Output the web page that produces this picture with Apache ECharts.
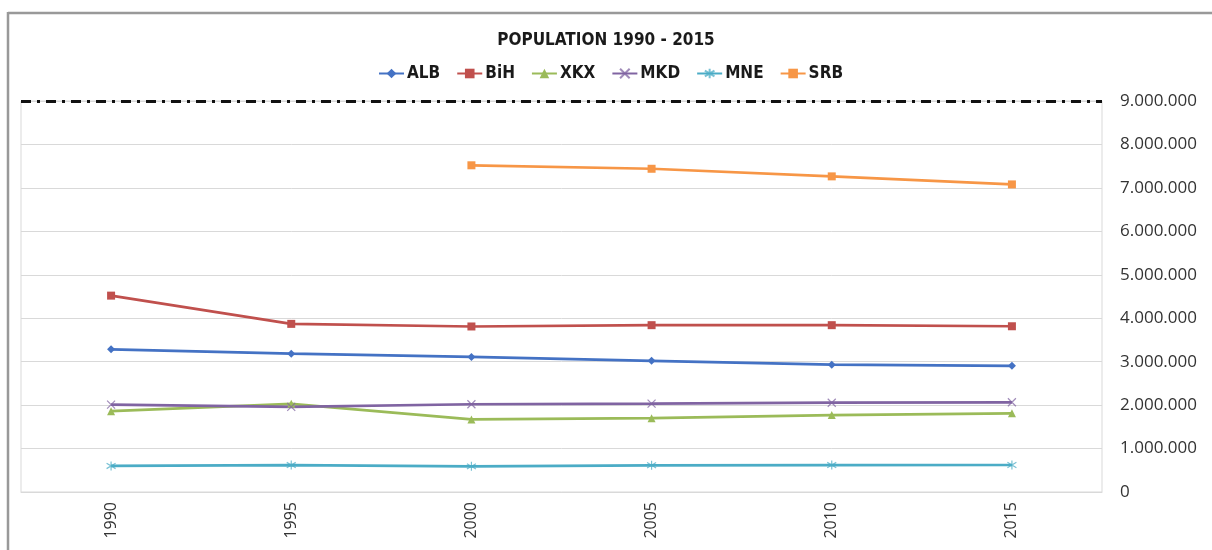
<!DOCTYPE html>
<html>
<head>
<meta charset="utf-8">
<script src="https://cdn.jsdelivr.net/npm/echarts@6/dist/echarts.min.js"></script>
<style>
html,body{margin:0;padding:0;background:#fff;}
#c{width:1212px;height:550px;}
</style>
</head>
<body>
<div id="c"></div>
<script>
var years = ['1990','1995','2000','2005','2010','2015'];
var ALB = [3285000, 3185000, 3110000, 3020000, 2930000, 2905000];
var BiH = [4520000, 3870000, 3810000, 3840000, 3840000, 3815000];
var XKX = [1860000, 2030000, 1670000, 1700000, 1770000, 1810000];
var MKD = [2010000, 1960000, 2020000, 2035000, 2055000, 2065000];
var MNE = [600000, 620000, 590000, 615000, 620000, 622000];
var SRB = [null, null, 7520000, 7440000, 7265000, 7080000];
var yTicks = [0, 1000000, 2000000, 3000000, 4000000, 5000000, 6000000, 7000000, 8000000, 9000000];

var colors = {ALB:'#4472C4', BiH:'#C0504D', XKX:'#9BBB59', MKD:'#8064A2', MNE:'#4BACC6', SRB:'#F79646'};
var xPath = 'path://M-4,-4L4,4M-4,4L4,-4';
var starPath = 'path://M0,-5L0,5M-4,-3L4,3M-4,3L4,-3';

function fmt(v){ return String(v).replace(/\B(?=(\d{3})+(?!\d))/g, '.'); }

function mk(name, data, symbol, size, stroke){
  var s = {
    name: name, type: 'line', data: data,
    symbol: symbol, symbolSize: size, showSymbol: true,
    connectNulls: false,
    lineStyle: {color: colors[name], width: 2.7},
    itemStyle: {color: colors[name]},
    z: 3
  };
  if (stroke) {
    s.itemStyle = {color: 'rgba(0,0,0,0)', borderColor: colors[name], borderWidth: 1.2, opacity: 0.75};
  }
  return s;
}

var chart = echarts.init(document.getElementById('c'));
var series = [
  mk('ALB', ALB, 'diamond', 8),
  mk('BiH', BiH, 'rect', 8),
  mk('XKX', XKX, 'triangle', 8),
  mk('MKD', MKD, xPath, 8, true),
  mk('MNE', MNE, starPath, 9, true),
  mk('SRB', SRB, 'rect', 8)
];
series[0].markLine = {
  silent: true, symbol: ['none','none'], label: {show: false},
  lineStyle: {color: '#111', width: 3, type: [10, 6, 3, 6]},
  data: [{yAxis: yTicks[yTicks.length-1]}],
  z: 5
};

chart.setOption({
  animation: false,
  backgroundColor: '#fff',
  title: {
    text: 'POPULATION 1990 - 2015',
    left: 'center', top: 27,
    textStyle: {fontFamily: "'DejaVu Sans Condensed','DejaVu Sans',sans-serif", fontWeight: 'bold', fontSize: 17, color: '#1a1a1a'}
  },
  legend: {
    top: 60, left: 373,
    itemWidth: 25, itemHeight: 12, itemGap: 16,
    textStyle: {fontFamily: "'DejaVu Sans Condensed','DejaVu Sans',sans-serif", fontWeight: 'bold', fontSize: 17, color: '#1a1a1a', padding: [0,0,0,-2]},
    data: ['ALB','BiH','XKX','MKD','MNE','SRB']
  },
  grid: {
    left: 21, right: 110, top: 101, bottom: 58,
    show: true, borderColor: '#d9d9d9', borderWidth: 1, backgroundColor: 'transparent'
  },
  xAxis: {
    type: 'category', data: years, boundaryGap: true,
    axisLine: {show: true, lineStyle: {color: '#d9d9d9', width: 1}},
    axisTick: {show: false},
    axisLabel: {rotate: 90, margin: 10, fontFamily: "'Open Sans',sans-serif", fontSize: 16, color: '#333'}
  },
  yAxis: {
    type: 'value', position: 'right', min: 0, max: 9000000, interval: 1000000,
    axisLine: {show: false}, axisTick: {show: false},
    splitLine: {lineStyle: {color: '#d9d9d9', width: 1}},
    axisLabel: {margin: 18, fontFamily: "'Open Sans',sans-serif", fontSize: 17, color: '#333', formatter: fmt}
  },
  graphic: [
    {type: 'line', shape: {x1: 8, y1: 13, x2: 1212, y2: 13}, style: {stroke: '#999', lineWidth: 2.5}, silent: true},
    {type: 'line', shape: {x1: 8, y1: 12, x2: 8, y2: 550}, style: {stroke: '#999', lineWidth: 2.5}, silent: true}
  ],
  series: series
});
</script>
</body>
</html>
